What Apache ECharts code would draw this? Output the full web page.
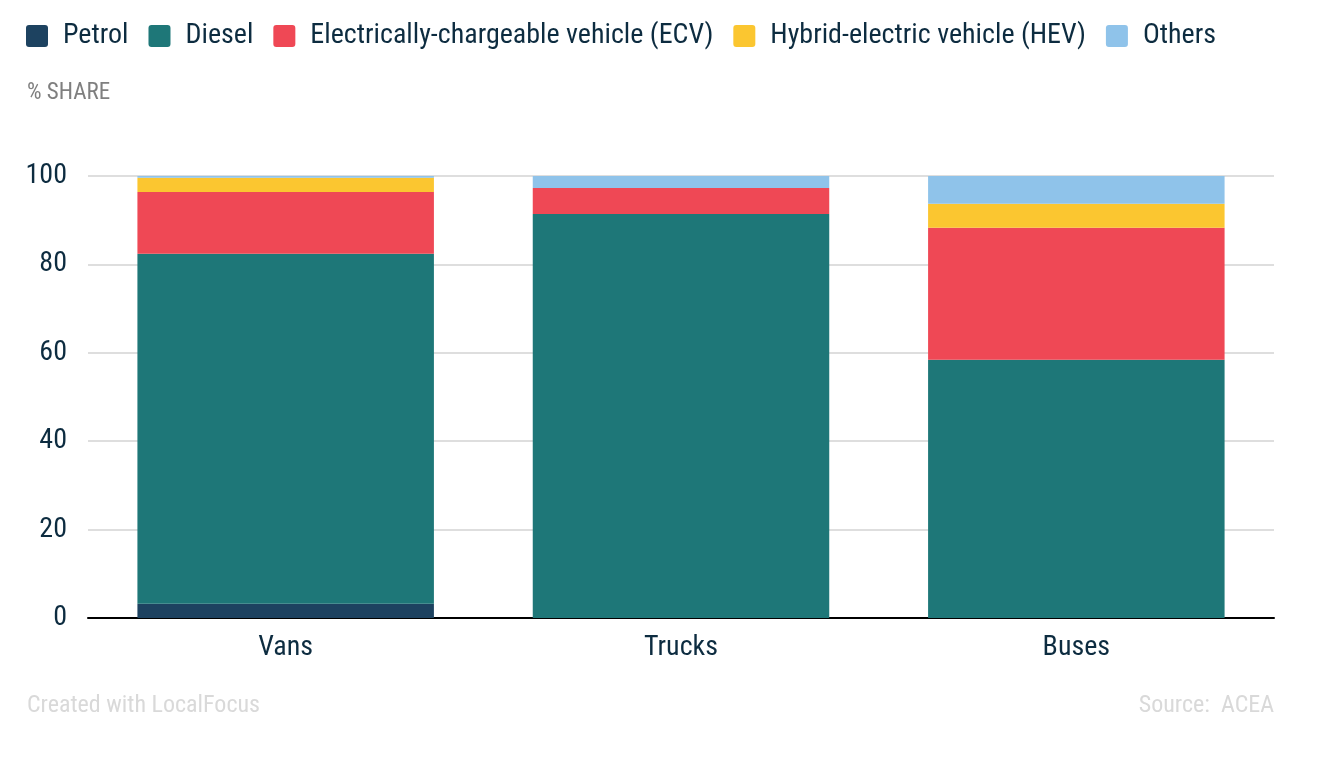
<!DOCTYPE html>
<html>
<head>
<meta charset="utf-8">
<script src="https://cdn.jsdelivr.net/npm/echarts@6/dist/echarts.min.js"></script>
<style>
html,body{margin:0;padding:0;background:#fff;}
#c{width:1320px;height:758px;}
</style>
</head>
<body>
<div id="c"></div>
<script>
const categories = ['Vans', 'Trucks', 'Buses'];
const seriesNames = ['Petrol', 'Diesel', 'Electrically-chargeable vehicle (ECV)', 'Hybrid-electric vehicle (HEV)', 'Others'];
const petrol = [3.2, 0, 0];
const diesel = [79.2, 91.4, 58.4];
const ecv = [14.0, 5.9, 29.9];
const hev = [3.2, 0, 5.4];
const others = [0.4, 2.7, 6.3];
const yTicks = [0, 20, 40, 60, 80, 100];

const colors = ['#1d4260', '#1e7778', '#ef4855', '#fbc630', '#8fc3ea'];
const values = [petrol, diesel, ecv, hev, others];
const txt = '#0d2c40';
const font = 'Roboto';
const fs = 'condensed';
const iconPath = 'path://M3,0 H19 A3,3 0 0 1 22,3 V19 A3,3 0 0 1 19,22 H3 A3,3 0 0 1 0,19 V3 A3,3 0 0 1 3,0 Z';

const chart = echarts.init(document.getElementById('c'));
chart.setOption({
  animation: false,
  color: colors,
  textStyle: { fontFamily: font },
  legend: {
    left: 26, top: 22, padding: 0,
    icon: iconPath,
    itemWidth: 22, itemHeight: 22, itemGap: 20,
    selectedMode: false,
    textStyle: { fontFamily: font, fontStyle: fs, fontSize: 28, fontWeight: 400, color: txt, padding: [0, 0, 0, 10] },
    data: seriesNames
  },
  graphic: [
    { type: 'text', left: 27, top: 82, style: { text: '% SHARE', fontFamily: font, fontStyle: fs, fontSize: 23, fontWeight: 400, fill: '#7f7f7f' } },
    { type: 'text', left: 27, top: 694, style: { text: 'Created with LocalFocus', fontFamily: font, fontStyle: fs, fontSize: 24, fontWeight: 400, fill: '#d9d9d9' } },
    { type: 'text', right: 46, top: 694, style: { text: 'Source:  ACEA', fontFamily: font, fontStyle: fs, fontSize: 24, fontWeight: 400, fill: '#d9d9d9' } }
  ],
  grid: { left: 88, right: 46, top: 176, bottom: 140, containLabel: false },
  xAxis: {
    type: 'category',
    data: categories,
    axisLine: { lineStyle: { color: '#000', width: 2 } },
    axisTick: { show: false },
    axisLabel: { color: txt, fontSize: 28, fontStyle: fs, fontWeight: 400, fontFamily: font, margin: 16 }
  },
  yAxis: {
    type: 'value',
    min: yTicks[0], max: yTicks[yTicks.length - 1], interval: 20,
    axisLine: { show: false },
    axisTick: { show: false },
    splitLine: { lineStyle: { color: '#dedede', width: 2 } },
    axisLabel: { color: txt, fontSize: 28, fontStyle: fs, fontWeight: 400, fontFamily: font, margin: 21 }
  },
  series: seriesNames.map((n, i) => ({
    name: n,
    type: 'bar',
    stack: 'total',
    barCategoryGap: '25%',
    data: values[i],
    itemStyle: { color: colors[i] }
  }))
});
</script>
</body>
</html>
